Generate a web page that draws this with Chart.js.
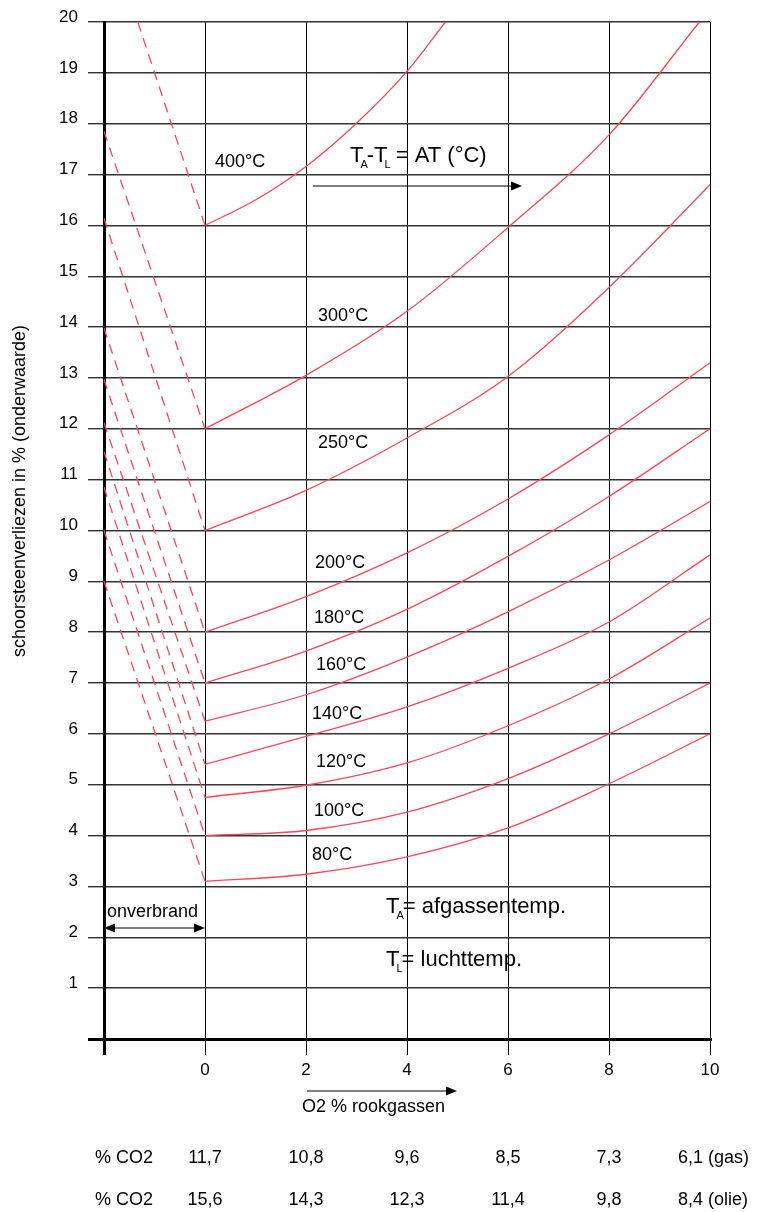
<!DOCTYPE html>
<html>
<head>
<meta charset="utf-8">
<script src="https://cdn.jsdelivr.net/npm/chart.js@4.4.1/dist/chart.umd.min.js"></script>
<style>
  html, body { margin: 0; padding: 0; background: #fff; }
  #wrap { width: 766px; height: 1212px; }
</style>
</head>
<body>
<div id="wrap"><canvas id="chimneyChart" width="766" height="1212"></canvas></div>
<script>
// values
const tempNames = ['80°C', '100°C', '120°C', '140°C', '160°C', '180°C', '200°C', '250°C', '300°C', '400°C'];
const o2Points = [0, 2, 4, 6, 8, 10];
const loss80 = [3.1, 3.24, 3.58, 4.15, 5.02, 6.0];
const loss100 = [4.0, 4.1, 4.46, 5.12, 6.0, 7.0];
const loss120 = [4.75, 4.99, 5.43, 6.16, 7.08, 8.28];
const loss140 = [5.4, 5.95, 6.53, 7.29, 8.2, 9.52];
const loss160 = [6.25, 6.77, 7.51, 8.4, 9.42, 10.57];
const loss180 = [7.0, 7.63, 8.45, 9.49, 10.67, 12.0];
const loss200 = [8.0, 8.7, 9.56, 10.62, 11.88, 13.3];
const loss250 = [10.0, 10.79, 11.82, 13.03, 14.78, 16.8];
const o2Points300 = [0, 2, 4, 6, 8, 9.79];
const loss300 = [12.0, 13.05, 14.31, 15.96, 17.78, 20];
const o2Points400 = [0, 1, 2, 3, 4, 4.76];
const loss400 = [16.0, 16.5, 17.16, 18.01, 19.03, 20];

// dashed "onverbrand" lines: upper end of each line (lower end = start of curve at O2 = 0)
const unburntX = [-2, -2, -2, -2, -2, -2, -2, -2, -2, -1.33];
const unburntY = [9.0, 10.0, 10.85, 11.55, 12.12, 12.97, 13.98, 16.14, 17.85, 20];

const xTickValues = [-2, 0, 2, 4, 6, 8, 10];
const co2Gas = ['11,7', '10,8', '9,6', '8,5', '7,3', '6,1 (gas)'];
const co2Oil = ['15,6', '14,3', '12,3', '11,4', '9,8', '8,4 (olie)'];

const RED = '#ff4655';
const FONT = '"Liberation Sans", Arial, sans-serif';

function pts(xs, ys) {
    return xs.map((x, i) => ({ x: x, y: ys[i] }));
}

const curves = [
    pts(o2Points, loss80), pts(o2Points, loss100), pts(o2Points, loss120),
    pts(o2Points, loss140), pts(o2Points, loss160), pts(o2Points, loss180),
    pts(o2Points, loss200), pts(o2Points, loss250), pts(o2Points300, loss300),
    pts(o2Points400, loss400)
];

var datasets = [];
var i = 0;
while (i < curves.length) {
    datasets.push({
        label: tempNames[i],
        data: curves[i],
        borderColor: RED,
        borderWidth: 1.3,
        pointRadius: 0,
        cubicInterpolationMode: 'monotone'
    });
    datasets.push({
        label: tempNames[i] + ' onverbrand',
        data: [{ x: unburntX[i], y: unburntY[i] }, curves[i][0]],
        borderColor: RED,
        borderWidth: 1.3,
        borderDash: [10, 7],
        pointRadius: 0,
        tension: 0
    });
    i++;
}

function arrowHead(ctx, x, y, dir) {
    ctx.beginPath();
    ctx.moveTo(x, y);
    ctx.lineTo(x - dir * 11, y - 4.5);
    ctx.lineTo(x - dir * 11, y + 4.5);
    ctx.closePath();
    ctx.fill();
}

function arrow(ctx, x1, x2, y, both) {
    ctx.beginPath();
    ctx.moveTo(both ? x1 + 6 : x1, y);
    ctx.lineTo(x2 - 6, y);
    ctx.stroke();
    arrowHead(ctx, x2, y, 1);
    if (both) arrowHead(ctx, x1, y, -1);
}

// text with subscripts: parts = [[text, isSub], ...]
function subText(ctx, parts, x, y, size) {
    let cx = x;
    parts.forEach(p => {
        if (p[1]) {
            ctx.font = Math.round(size * 0.5) + 'px ' + FONT;
            cx -= 3;
            ctx.fillText(p[0], cx, y + 6);
            cx += ctx.measureText(p[0]).width - 1;
        } else {
            ctx.font = size + 'px ' + FONT;
            ctx.fillText(p[0], cx, y);
            cx += ctx.measureText(p[0]).width;
        }
    });
}

const extras = {
    id: 'extras',
    afterDatasetsDraw(chart) {
        const ctx = chart.ctx;
        const xs = chart.scales.x;
        ctx.save();
        ctx.fillStyle = '#000';
        ctx.strokeStyle = '#000';
        ctx.lineWidth = 1.2;
        ctx.textBaseline = 'middle';

        // temperature labels
        const spots = [[312, 855], [314, 811], [316, 762], [312, 714], [316, 665],
                       [314, 618], [315, 563], [318, 443], [318, 316], [215, 162]];
        ctx.font = '18px ' + FONT;
        ctx.textAlign = 'left';
        spots.forEach((s, k) => ctx.fillText(tempNames[k], s[0], s[1]));

        ctx.textBaseline = 'alphabetic';
        subText(ctx, [['T', 0], ['A', 1], ['-T', 0], ['L', 1], [' = AT (°C)', 0]], 350, 162, 22);
        arrow(ctx, 313, 522, 186, false);

        subText(ctx, [['T', 0], ['A', 1], ['= afgassentemp.', 0]], 386, 913, 22);
        subText(ctx, [['T', 0], ['L', 1], ['= luchttemp.', 0]], 386, 966, 22);

        ctx.textBaseline = 'middle';
        ctx.font = '18px ' + FONT;
        ctx.fillText('onverbrand', 107, 912);
        arrow(ctx, xs.getPixelForValue(-2), xs.getPixelForValue(0), 928, true);

        ctx.fillText('O2 % rookgassen', 302, 1107);
        arrow(ctx, 307, 457, 1091, false);

        // y axis title
        ctx.save();
        ctx.translate(20, 491);
        ctx.rotate(-Math.PI / 2);
        ctx.textAlign = 'center';
        ctx.fillText('schoorsteenverliezen in % (onderwaarde)', 0, 0);
        ctx.restore();

        // CO2 rows under the O2 axis
        ctx.font = '18px ' + FONT;
        const rowY = [1158, 1200];
        [co2Gas, co2Oil].forEach((row, r) => {
            ctx.textAlign = 'left';
            ctx.fillText('% CO2', 95, rowY[r]);
            o2Points.forEach((v, k) => {
                const px = xs.getPixelForValue(v);
                if (k === o2Points.length - 1) {
                    ctx.textAlign = 'left';
                    ctx.fillText(row[k], px - 32, rowY[r]);
                } else {
                    ctx.textAlign = 'center';
                    ctx.fillText(row[k], px, rowY[r]);
                }
            });
        });
        ctx.restore();
    }
};

const chart = new Chart(document.getElementById('chimneyChart'), {
    type: 'line',
    data: { datasets: datasets },
    options: {
        responsive: false,
        animation: false,
        events: [],
        layout: { padding: { top: 22, right: 56, left: 0, bottom: 0 } },
        plugins: {
            legend: { display: false },
            tooltip: { enabled: false }
        },
        scales: {
            x: {
                type: 'linear',
                min: -2,
                max: 10,
                afterBuildTicks: s => { s.ticks = xTickValues.map(v => ({ value: v })); },
                afterFit: s => { s.height = 173; },
                ticks: {
                    callback: v => v === -2 ? '' : v,
                    color: '#000',
                    font: { family: FONT, size: 17 },
                    padding: 5,
                    maxRotation: 0
                },
                grid: {
                    color: '#000',
                    lineWidth: c => c.tick && c.tick.value === -2 ? 3 : 1,
                    tickLength: 16
                },
                border: { display: true, color: '#000', width: 3 }
            },
            y: {
                min: 0,
                max: 20,
                afterFit: s => { s.width = 104; },
                ticks: {
                    stepSize: 1,
                    callback: v => v === 0 ? '' : v,
                    color: '#000',
                    font: { family: FONT, size: 17 },
                    padding: 10,
                    labelOffset: -5
                },
                grid: {
                    color: c => c.tick && c.tick.value === 0 ? '#000' : '#333',
                    lineWidth: c => c.tick && c.tick.value === 0 ? 3 : 1.4,
                    tickLength: 16
                },
                border: { display: true, color: '#000', width: 3 }
            }
        }
    },
    plugins: [extras]
});
</script>
</body>
</html>
